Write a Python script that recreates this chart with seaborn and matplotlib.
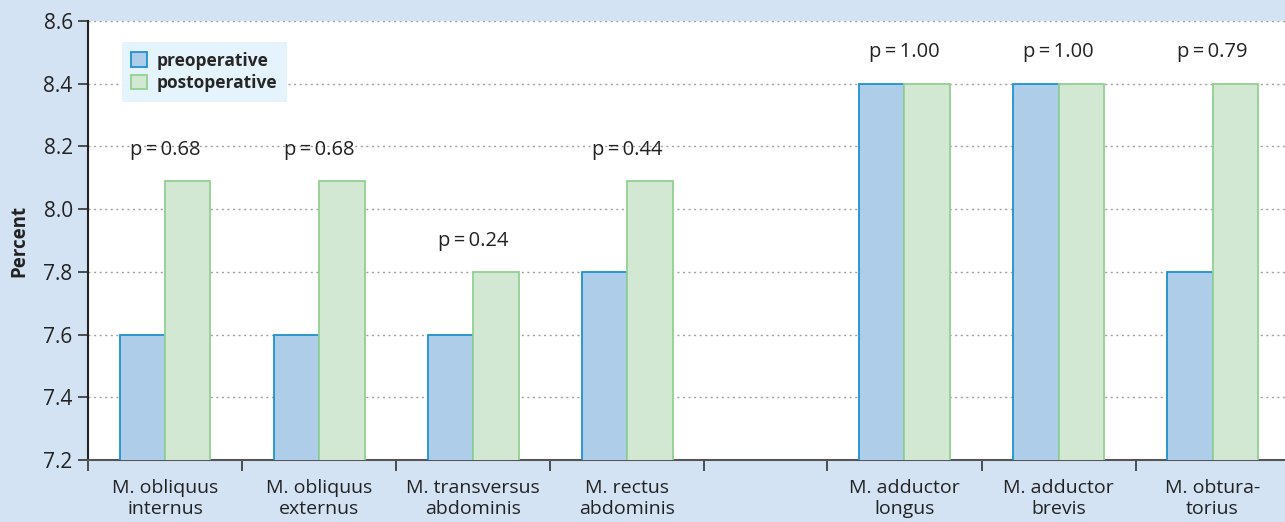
import pandas as pd
import matplotlib.pyplot as plt
import seaborn as sns

sns.set_style("white")
plt.rcParams['font.family'] = ['Open Sans', 'DejaVu Sans']

muscles = ['M. obliquus\ninternus', 'M. obliquus\nexternus', 'M. transversus\nabdominis',
           'M. rectus\nabdominis', 'M. adductor\nlongus', 'M. adductor\nbrevis', 'M. obtura-\ntorius']
xpos = [0.5, 1.5, 2.5, 3.5, 5.3, 6.3, 7.3]
boundaries = [0, 1, 2, 3, 4, 4.8, 5.8, 6.8]
pre = [7.6, 7.6, 7.6, 7.8, 8.4, 8.4, 7.8]
post = [8.09, 8.09, 7.8, 8.09, 8.4, 8.4, 8.4]
pvals = ['0.68', '0.68', '0.24', '0.44', '1.00', '1.00', '0.79']

df = pd.DataFrame({
    'x': xpos * 2,
    'value': pre + post,
    'when': ['preoperative'] * len(pre) + ['postoperative'] * len(post),
})

bg = '#d4e3f4'
face = {'preoperative': '#aecde9', 'postoperative': '#d2e8d2'}
edge = {'preoperative': '#1f91d1', 'postoperative': '#92d092'}

fig = plt.figure(figsize=(12.85, 5.22), dpi=100, facecolor=bg)
ax = fig.add_axes([88 / 1285, 1 - 460 / 522, 1 - 88 / 1285, (460 - 21) / 522])
ax.set_facecolor('white')

sns.barplot(data=df, x='x', y='value', hue='when', native_scale=True, palette=face,
            saturation=1, width=0.59, ax=ax, legend=False, zorder=3)

for cont, name in zip(ax.containers, ['preoperative', 'postoperative']):
    for bar in cont:
        bar.set_edgecolor(edge[name])
        bar.set_linewidth(1.3)

# p-values above groups
for x, a, b, p in zip(xpos, pre, post, pvals):
    ax.text(x, max(a, b) + 0.1, f'p\u2009=\u2009{p}', ha='center', va='center',
            fontsize=14.5, color='#222222', zorder=4)

ax.set_ylim(7.2, 8.6)
ax.set_xlim(0, 7.77)
yt = [7.2, 7.4, 7.6, 7.8, 8.0, 8.2, 8.4, 8.6]
ax.set_yticks(yt)
ax.set_yticklabels([f'{v:.1f}' for v in yt], fontsize=15, color='#222222')
ax.yaxis.grid(True, linestyle=(0, (1.5, 2.5)), color='#a0a0a0', linewidth=1, zorder=0)
ax.set_axisbelow(True)

ax.set_xticks(boundaries)
ax.set_xticklabels([])
ax.set_xticks(xpos, minor=True)
ax.set_xticklabels(muscles, minor=True, fontsize=14, color='#222222', linespacing=1.15)
ax.tick_params(axis='x', which='major', bottom=True, direction='out', length=8,
               width=1.2, color='#333333')
ax.tick_params(axis='x', which='minor', bottom=True, length=0, pad=14)
ax.tick_params(axis='y', left=True, direction='out', length=7, width=1.2,
               color='#333333', pad=4)

ax.set_xlabel('')
ax.set_ylabel('Percent', fontsize=13.5, fontweight='bold', color='#222222', labelpad=10)

for s in ['top', 'right']:
    ax.spines[s].set_visible(False)
ax.spines['left'].set_color('#222222')
ax.spines['left'].set_linewidth(1.5)
ax.spines['bottom'].set_color('#555555')
ax.spines['bottom'].set_linewidth(1.5)

handles = [plt.Rectangle((0, 0), 1, 1, facecolor=face[k], edgecolor=edge[k], linewidth=1.3)
           for k in ['preoperative', 'postoperative']]
leg = ax.legend(handles, ['preoperative', 'postoperative'], loc='upper left',
                bbox_to_anchor=(0.028, 0.952), borderaxespad=0, frameon=True, fancybox=False,
                facecolor='#e5f4fc', edgecolor='none', framealpha=1,
                handlelength=0.9, handleheight=0.9, handletextpad=0.6,
                labelspacing=0.25, borderpad=0.55, prop={'weight': 'bold', 'size': 12.5})

fig.savefig('out.png', dpi=100, facecolor=bg)
